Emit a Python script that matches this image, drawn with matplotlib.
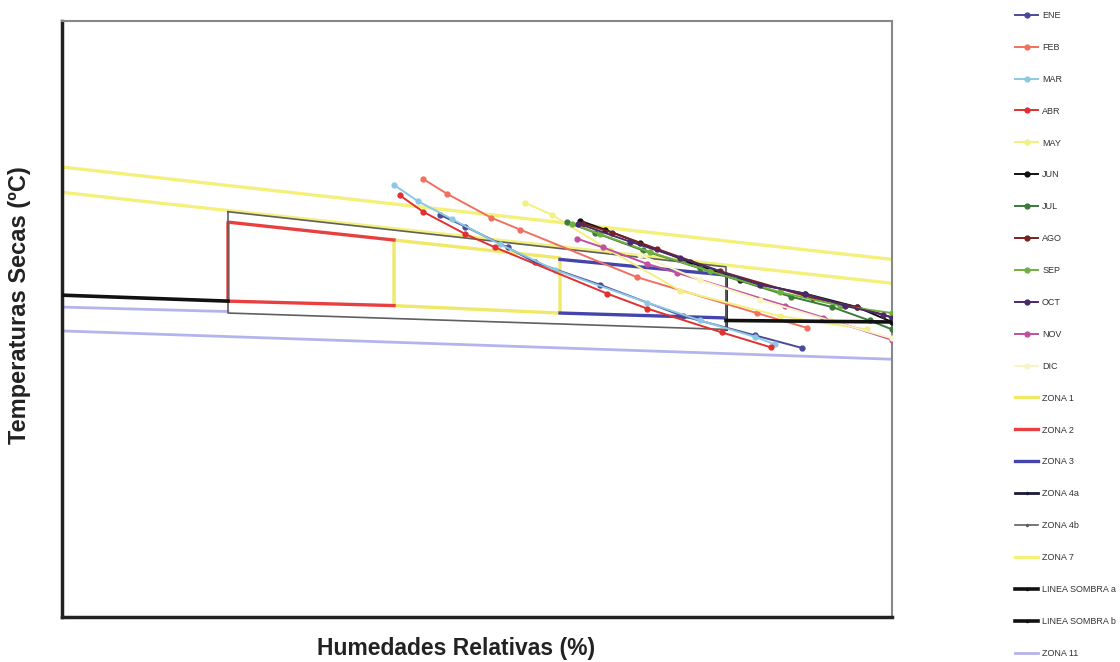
import numpy as np
import matplotlib
matplotlib.use("Agg")
import matplotlib.pyplot as plt

plt.rcParams['font.family'] = ['Liberation Sans', 'DejaVu Sans']

nan = np.nan

# monthly lines: relative humidity (%) vs dry temperature (C)
months = ['ENE', 'FEB', 'MAR', 'ABR', 'MAY', 'JUN', 'JUL', 'AGO', 'SEP', 'OCT', 'NOV', 'DIC']
month_colors = ['#4a4a9a', '#f07060', '#8cc8e4', '#e03030', '#f2f080', '#111111',
                '#3a7a3a', '#7a2020', '#70b040', '#4a2a6a', '#c050a0', '#f8f4c4']

ene_hr = [45.5, 48.6, 53.7, 57.0, 64.8, 74.8, 83.5, 89.2]
ene_t = [27.0, 26.2, 24.8, 23.8, 22.3, 20.2, 18.9, 18.05]
feb_hr = [43.5, 46.4, 51.7, 55.2, 69.3, 83.7, 89.8]
feb_t = [29.4, 28.4, 26.8, 26.0, 22.8, 20.4, 19.4]
mar_hr = [40.0, 42.9, 47.0, 52.8, 59.4, 70.5, 76.9, 83.5, 85.9]
mar_t = [29.0, 27.9, 26.7, 25.0, 23.3, 21.1, 19.9, 18.8, 18.3]
abr_hr = [40.7, 43.5, 48.6, 52.2, 65.7, 70.5, 79.5, 85.4]
abr_t = [28.3, 27.2, 25.7, 24.8, 21.7, 20.7, 19.1, 18.1]
may_hr = [55.8, 59.0, 66.0, 74.5, 86.5, 97.0]
may_t = [27.8, 27.0, 24.6, 21.9, 20.2, 19.3]
jun_hr = [62.4, 65.4, 69.6, 75.7, 81.7, 89.5, 95.8, 100]
jun_t = [26.6, 26.0, 25.1, 23.8, 22.6, 21.7, 20.8, 19.8]
jul_hr = [60.8, 64.2, 70.0, 76.9, 87.8, 92.8, 97.3, 100]
jul_t = [26.5, 25.8, 24.6, 23.4, 21.5, 20.8, 19.9, 19.3]
ago_hr = [62.8, 66.3, 71.7, 79.3, 90.5, 95.8, 100]
ago_t = [26.4, 25.8, 24.7, 23.2, 21.4, 20.8, 20.1]
sep_hr = [61.4, 64.8, 70.8, 78.1, 86.5, 93.7, 100]
sep_t = [26.4, 25.7, 24.5, 23.2, 21.8, 20.9, 20.4]
oct_hr = [62.2, 68.4, 74.5, 84.1, 89.5, 94.3, 98.9, 100]
oct_t = [26.4, 25.2, 24.1, 22.3, 21.7, 20.9, 20.3, 20.1]
nov_hr = [62.0, 65.2, 70.5, 74.1, 87.1, 91.7, 100]
nov_t = [25.4, 24.8, 23.7, 23.1, 20.9, 20.1, 18.6]
dic_hr = [69.6, 76.9, 84.1, 92.5, 100]
dic_t = [24.3, 22.6, 21.3, 19.9, 18.7]

month_hr = [ene_hr, feb_hr, mar_hr, abr_hr, may_hr, jun_hr, jul_hr, ago_hr, sep_hr, oct_hr, nov_hr, dic_hr]
month_t = [ene_t, feb_t, mar_t, abr_t, may_t, jun_t, jul_t, ago_t, sep_t, oct_t, nov_t, dic_t]

# comfort zones (NaN breaks a polyline)
zona1_hr = [40, 60, 60, 40, 40]
zona1_t = [25.3, 24.1, 20.4, 20.9, 25.3]
zona2_hr = [40, 20, 20, 40]
zona2_t = [20.9, 21.2, 26.5, 25.3]
zona3_hr = [60, 80, nan, 60, 80]
zona3_t = [24.0, 22.95, nan, 20.4, 20.07]
zona4a_hr = [80, 80]
zona4a_t = [23.0, 19.3]
zona4b_hr = [20, 80, 80, 20, 20]
zona4b_t = [27.2, 23.5, 19.3, 20.4, 27.2]
zona7_hr = [0, 100, nan, 0, 100]
zona7_t = [30.2, 24.0, nan, 28.5, 22.4]
sombra_a_hr = [0, 20]
sombra_a_t = [21.6, 21.2]
sombra_b_hr = [80, 100]
sombra_b_t = [19.9, 19.8]
zona11_hr = [0, 20, nan, 0, 100]
zona11_t = [20.8, 20.5, nan, 19.2, 17.3]

fig = plt.figure(figsize=(11.2, 6.62), dpi=100)
ax = fig.add_axes([62 / 1120, 1 - 617 / 662, 830 / 1120, 596 / 662])

handles = []
for name, hr, t, c in zip(months, month_hr, month_t, month_colors):
    h, = ax.plot(hr, t, '-o', color=c, lw=1.4, ms=3.5, label=name, zorder=4)
    handles.append(h)

zones = [
    ('ZONA 1', zona1_hr, zona1_t, '#f0e868', 2.4, None, 3),
    ('ZONA 2', zona2_hr, zona2_t, '#e84040', 2.4, None, 3),
    ('ZONA 3', zona3_hr, zona3_t, '#4444aa', 2.4, None, 3),
    ('ZONA 4a', zona4a_hr, zona4a_t, '#1a1a3a', 2.0, '.', 3),
    ('ZONA 4b', zona4b_hr, zona4b_t, '#606060', 1.2, '.', 3),
    ('ZONA 7', zona7_hr, zona7_t, '#f4f07c', 2.4, None, 2),
    ('LINEA SOMBRA a', sombra_a_hr, sombra_a_t, '#111111', 2.6, '.', 5),
    ('LINEA SOMBRA b', sombra_b_hr, sombra_b_t, '#111111', 2.6, '.', 5),
    ('ZONA 11', zona11_hr, zona11_t, '#b4b4ec', 2.0, None, 2),
]
for name, hr, t, c, lw, mk, z in zones:
    h, = ax.plot(hr, t, color=c, lw=lw, marker=mk, ms=3, markevery=[], label=name, zorder=z)
    handles.append(h)

ax.set_xlim(0, 100)
ax.set_ylim(0, 40)
ax.set_xticks([])
ax.set_yticks([])
for side in ['left', 'bottom']:
    ax.spines[side].set_linewidth(2.5)
    ax.spines[side].set_color('#222222')
for side in ['top', 'right']:
    ax.spines[side].set_linewidth(1.5)
    ax.spines[side].set_color('#888888')

fig.text(456 / 1120, 1 - 648 / 662, 'Humedades Relativas (%)', ha='center', va='center',
         fontsize=16.5, fontweight='bold', color='#222222')
fig.text(20 / 1120, 1 - 305 / 662, 'Temperaturas Secas (ºC)', ha='center', va='center',
         rotation=90, fontsize=17, fontweight='bold', color='#222222')

leg = fig.legend(handles=handles, loc='upper left', bbox_to_anchor=(1015 / 1120, 1 - 11 / 662),
                 frameon=False, fontsize=6.5, handlelength=2.6, handletextpad=0.4,
                 labelspacing=2.535, borderaxespad=0, borderpad=0)
for txt in leg.get_texts():
    txt.set_color('#333333')

fig.savefig('out.png', dpi=100)
